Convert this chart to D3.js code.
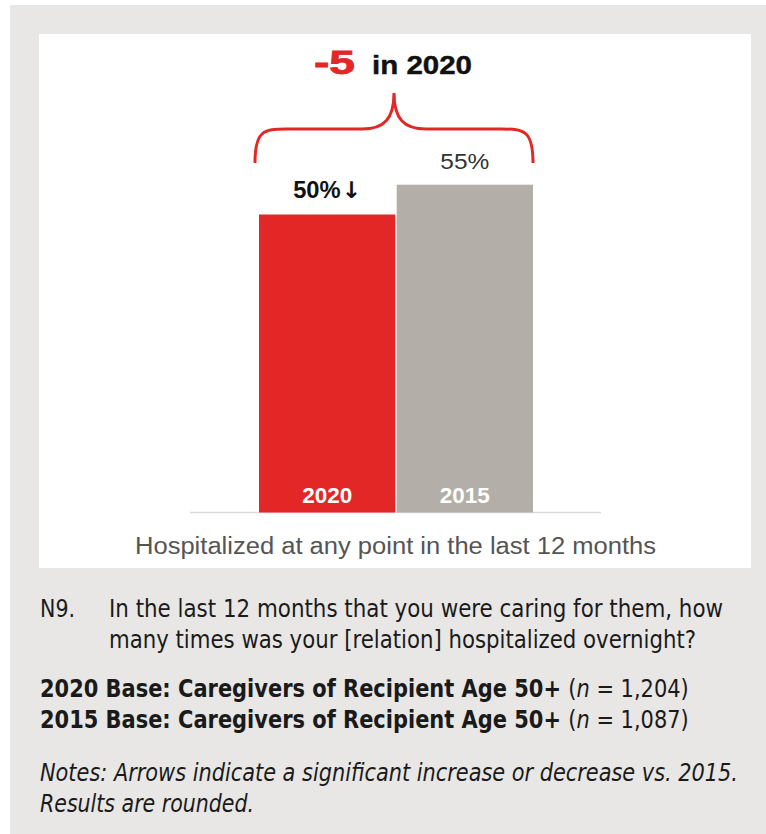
<!DOCTYPE html>
<html>
<head>
<meta charset="utf-8">
<script src="https://cdn.jsdelivr.net/npm/d3@7/dist/d3.min.js"></script>
<style>
  html, body { margin: 0; padding: 0; background: #fff; }
  svg { display: block; }
</style>
</head>
<body>
<svg id="chart" width="766" height="834"></svg>
<script>
// Share of recipients hospitalized at any point in the last 12 months
const years = ["2020", "2015"];
const values = [50, 55];
const valueLabels = ["50%", "55%"];
const valueArrows = ["↓", ""];
const barColors = ["#E32726", "#B3AEA8"];
const categoryLabel = "Hospitalized at any point in the last 12 months";

const questionLines = [
  "In the last 12 months that you were caring for them, how",
  "many times was your [relation] hospitalized overnight?"
];
const baseLines = [
  { bold: "2020 Base: Caregivers of Recipient Age 50+", n: "1,204" },
  { bold: "2015 Base: Caregivers of Recipient Age 50+", n: "1,087" }
];
const noteLines = [
  "Notes: Arrows indicate a significant increase or decrease vs. 2015.",
  "Results are rounded."
];

const svg = d3.select("#chart");
const sans = "'Liberation Sans', Arial, Helvetica, sans-serif";
const narrow = "'DejaVu Sans Condensed', 'Liberation Sans Narrow', 'DejaVu Sans', sans-serif";

// Fit a single-run text element to a given rendered width
function fit(sel, w) {
  return sel.attr("textLength", w).attr("lengthAdjust", "spacingAndGlyphs");
}

// Multi-run text: build it at the origin of a group, then scale the group horizontally to a width
function scaledText(parent, x, y, anchor, width, build) {
  const g = parent.append("g");
  const t = g.append("text").attr("x", 0).attr("y", 0).attr("text-anchor", anchor);
  build(t);
  const w = t.node().getComputedTextLength();
  g.attr("transform", `translate(${x},${y}) scale(${width / w},1)`);
  return g;
}

// Panels
svg.append("rect").attr("x", 10).attr("y", 5).attr("width", 756).attr("height", 829).attr("fill", "#E8E7E5");
svg.append("rect").attr("x", 39).attr("y", 34).attr("width", 712).attr("height", 534).attr("fill", "#FFFFFF");

// Scales
const x = d3.scaleBand().domain(years).range([259, 533]).paddingInner(0.01);
const y = d3.scaleLinear().domain([0, 100]).range([512.5, -83.5]);

// Baseline
svg.append("line").attr("x1", 190).attr("x2", 601).attr("y1", 512.5).attr("y2", 512.5)
  .attr("stroke", "#DADADA").attr("stroke-width", 1.5);

// Bars
svg.selectAll("rect.bar").data(years).join("rect")
  .attr("class", "bar")
  .attr("x", d => x(d))
  .attr("y", (d, i) => y(values[i]))
  .attr("width", x.bandwidth())
  .attr("height", (d, i) => y(0) - y(values[i]))
  .attr("fill", (d, i) => barColors[i]);

// Year labels inside bars
svg.selectAll("text.year").data(years).join("text")
  .attr("class", "year")
  .attr("x", d => x(d) + x.bandwidth() / 2)
  .attr("y", 502.5)
  .attr("text-anchor", "middle")
  .attr("font-family", sans).attr("font-weight", "bold").attr("font-size", 22)
  .attr("fill", "#FFFFFF")
  .text(d => d)
  .call(fit, 50);

// Value labels (2020 carries the significance arrow)
years.forEach((yr, i) => {
  const cx = x(yr) + x.bandwidth() / 2;
  if (valueArrows[i]) {
    scaledText(svg, cx, y(values[i]) - 17, "middle", 67, t => {
      t.attr("font-family", sans).attr("font-weight", "bold").attr("font-size", 23.5).attr("fill", "#111");
      t.append("tspan").text(valueLabels[i]);
      t.append("tspan").attr("font-family", "'DejaVu Sans', sans-serif").attr("font-size", 23)
        .attr("dx", 1).text(valueArrows[i]);
    });
  } else {
    svg.append("text")
      .attr("x", cx).attr("y", y(values[i]) - 16)
      .attr("text-anchor", "middle")
      .attr("font-family", sans).attr("font-size", 22).attr("fill", "#333")
      .text(valueLabels[i])
      .call(fit, 49);
  }
});

// Category label
svg.append("text")
  .attr("x", 395.5).attr("y", 554)
  .attr("text-anchor", "middle")
  .attr("font-family", sans).attr("font-size", 23)
  .attr("fill", "#555")
  .text(categoryLabel)
  .call(fit, 521);

// Curly brace spanning both bars
const bx0 = x(years[0]) - 4, bx1 = x(years[1]) + x.bandwidth();
const bm = (bx0 + bx1) / 2;
const yEnd = 163, yMid = 129, yTip = 93;
const brace = d3.path();
brace.moveTo(bx0, yEnd);
brace.bezierCurveTo(bx0, yMid + 2, bx0 + 8, yMid, bx0 + 32, yMid);
brace.lineTo(bm - 32, yMid);
brace.bezierCurveTo(bm - 10, yMid, bm, yMid - 10, bm, yTip);
brace.bezierCurveTo(bm, yMid - 10, bm + 10, yMid, bm + 32, yMid);
brace.lineTo(bx1 - 32, yMid);
brace.bezierCurveTo(bx1 - 8, yMid, bx1, yMid + 2, bx1, yEnd);
svg.append("path").attr("d", brace.toString())
  .attr("fill", "none").attr("stroke", "#E32726").attr("stroke-width", 3);

// Change headline
const change = values[0] - values[1];
svg.append("text")
  .attr("x", bm - 80).attr("y", 74)
  .attr("font-family", sans).attr("font-weight", "bold").attr("font-size", 33)
  .attr("fill", "#E32726")
  .attr("stroke", "#E32726").attr("stroke-width", 0.8)
  .text(String(change))
  .call(fit, 41);
svg.append("text")
  .attr("x", bm - 22).attr("y", 74)
  .attr("font-family", sans).attr("font-weight", "bold").attr("font-size", 25)
  .attr("fill", "#111")
  .attr("stroke", "#111").attr("stroke-width", 0.4)
  .text("in " + years[0])
  .call(fit, 100);

// Footnotes
const foot = svg.append("g").attr("font-family", narrow).attr("fill", "#1a1a1a").attr("font-size", 24);
foot.append("text").attr("x", 40).attr("y", 617).text("N9.").call(fit, 35);
const qWidths = [614, 587];
questionLines.forEach((t, i) => {
  foot.append("text").attr("x", 109).attr("y", 617 + i * 31).text(t).call(fit, qWidths[i]);
});
baseLines.forEach((b, i) => {
  scaledText(foot, 40, 697 + i * 31, "start", 649, t => {
    t.append("tspan").attr("font-weight", "bold").text(b.bold + " ");
    t.append("tspan").text("(");
    t.append("tspan").attr("font-style", "italic").text("n");
    t.append("tspan").text(" = " + b.n + ")");
  });
});
const nWidths = [698, 214];
noteLines.forEach((t, i) => {
  foot.append("text").attr("x", 40).attr("y", 781 + i * 31).attr("font-style", "italic").text(t).call(fit, nWidths[i]);
});
</script>
</body>
</html>
